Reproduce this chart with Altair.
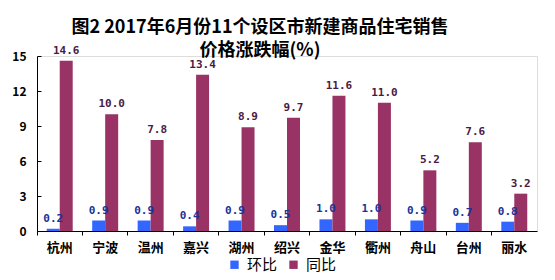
import altair as alt
import pandas as pd

cities = ["杭州", "宁波", "温州", "嘉兴", "湖州", "绍兴", "金华", "衢州", "舟山", "台州", "丽水"]
huanbi = [0.2, 0.9, 0.9, 0.4, 0.9, 0.5, 1.0, 1.0, 0.9, 0.7, 0.8]
tongbi = [14.6, 10.0, 7.8, 13.4, 8.9, 9.7, 11.6, 11.0, 5.2, 7.6, 3.2]
series = ["环比", "同比"]
colors = ["#3366FF", "#993366"]
label_colors = ["#1A3399", "#4A1A44"]
y_ticks = [0, 3, 6, 9, 12, 15]

rows = []
for i, c in enumerate(cities):
    rows.append({"city": c, "series": series[0], "value": huanbi[i]})
    rows.append({"city": c, "series": series[1], "value": tongbi[i]})
df = pd.DataFrame(rows)
df["label"] = df["value"].map(lambda v: f"{v:.1f}")

FONT = "Noto Sans CJK SC"

x = alt.X("city:N", sort=cities, title=None,
          scale=alt.Scale(paddingInner=0, paddingOuter=0),
          axis=alt.Axis(bandPosition=0, labelAngle=0, labelFont=FONT, labelFontWeight="bold",
                        labelFontSize=13, labelColor="#000000", labelPadding=6,
                        tickSize=4, tickColor="#000000", domainColor="#000000",
                        labelBound=False, labelFlush=False))
xoff = alt.XOffset("series:N", sort=series, scale=alt.Scale(paddingOuter=0.75, paddingInner=0))
yscale = alt.Scale(domain=[0, 15], nice=False)

bars = alt.Chart(df).mark_bar().encode(
    x=x,
    xOffset=xoff,
    y=alt.Y("value:Q", scale=yscale, title=None,
            axis=alt.Axis(values=y_ticks, orient="left", grid=False, ticks=False,
                          labelFont=FONT, labelFontWeight="bold", labelFontSize=12,
                          labelColor="#000000", labelPadding=11, domainColor="#000000")),
    color=alt.Color("series:N", sort=series,
                    scale=alt.Scale(domain=series, range=colors),
                    legend=alt.Legend(title=None, orient="none", direction="horizontal",
                                      legendX=190, legendY=201, symbolType="square",
                                      symbolSize=70, symbolStrokeWidth=0, labelFontSize=15,
                                      labelFont=FONT, labelColor="#000000", columnPadding=8,
                                      labelOffset=5)),
)

texts = alt.Chart(df).mark_text(dy=-10, fontSize=11, fontWeight="bold",
                                font="DejaVu Sans Mono").encode(
    x=x,
    xOffset=xoff,
    y=alt.Y("value:Q", scale=yscale, axis=None),
    text="label:N",
    color=alt.Color("series:N", sort=series,
                    scale=alt.Scale(domain=series, range=label_colors), legend=None),
)

ticks_layer = alt.Chart(df).mark_bar(opacity=0).encode(
    x=x,
    y=alt.Y("value:Q", scale=yscale,
            axis=alt.Axis(values=y_ticks, orient="right", offset=-500, labels=False,
                          domain=False, grid=False, tickSize=4, tickColor="#000000", title=None)),
)

chart = alt.layer(bars, ticks_layer, texts).resolve_scale(
    color="independent", y="shared"
).resolve_axis(y="independent").properties(
    width=500, height=175,
    title=alt.TitleParams(
        text="图2  2017年6月份11个设区市新建商品住宅销售",
        subtitle="价格涨跌幅(%)",
        font=FONT, fontSize=18, fontWeight="bold", color="#000000",
        subtitleFont=FONT, subtitleFontSize=18, subtitleFontWeight="bold",
        subtitleColor="#000000", subtitlePadding=5, subtitleLineHeight=20,
        anchor="middle", dx=-27, offset=-15,
    ),
    autosize=alt.AutoSizeParams(type="none"),
    padding={"left": 37, "top": 56, "right": 18, "bottom": 49},
).configure_view(stroke=None).configure(background="#FFFFFF")

chart.save("out.html", embed_options={"renderer": "svg", "actions": False})
